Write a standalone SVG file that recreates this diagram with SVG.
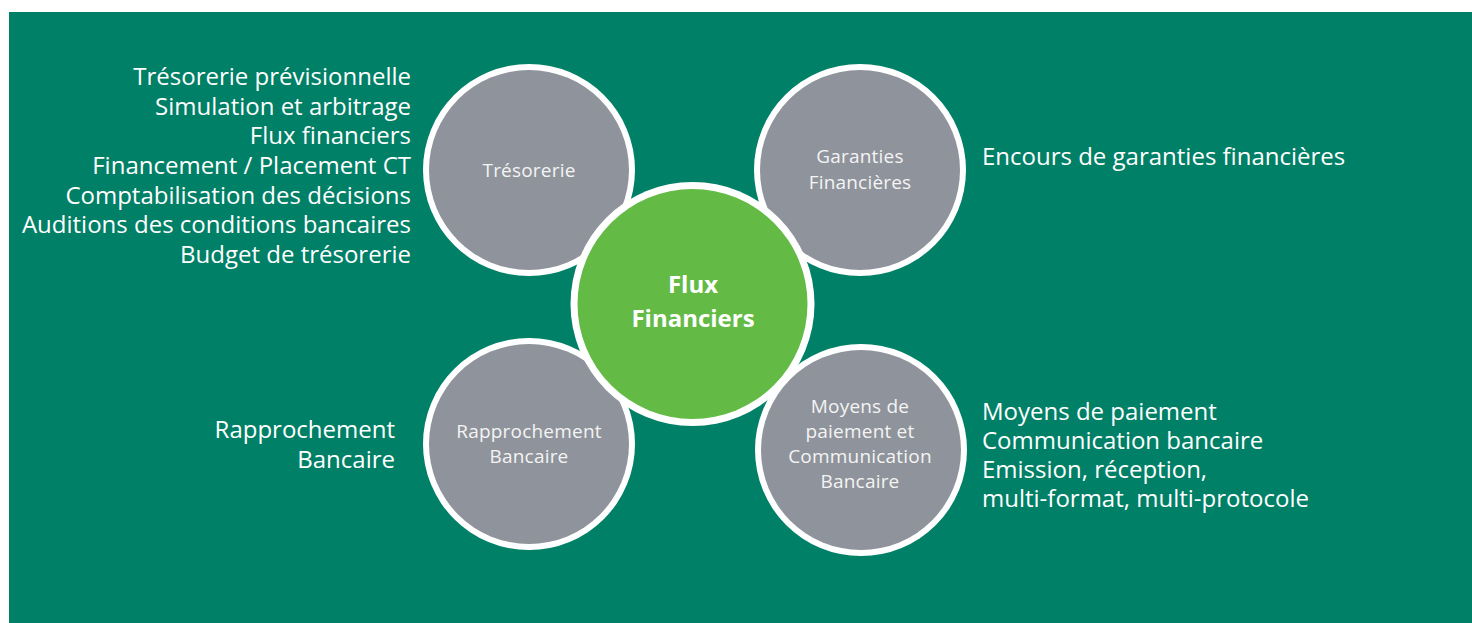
<svg xmlns="http://www.w3.org/2000/svg" width="1472" height="623" viewBox="0 0 1472 623">
  <style>
    .ring { fill: #ffffff; }
    .sat { fill: #8f939b; }
    .hub { fill: #63bb46; }
    .lbl { font-family: "Open Sans", "Noto Sans", sans-serif; font-size: 19px; letter-spacing: 0.2px; fill: #f4f4f4; text-anchor: middle; }
    .hubl { font-family: "Open Sans", "Noto Sans", sans-serif; font-size: 24px; font-weight: bold; fill: #ffffff; text-anchor: middle; }
    .side { font-family: "Open Sans", "Noto Sans", sans-serif; font-size: 24px; fill: #ffffff; }
    .end { text-anchor: end; }
  </style>
  <rect x="0" y="0" width="1472" height="623" fill="#ffffff"/>
  <rect x="9" y="12" width="1463" height="611" fill="#008066"/>

  <g id="tresorerie">
    <circle class="ring" cx="529" cy="170" r="106"/>
    <circle class="sat" cx="529" cy="170" r="100"/>
    <text class="lbl" x="529" y="177">Trésorerie</text>
  </g>

  <g id="garanties">
    <circle class="ring" cx="860" cy="170" r="106"/>
    <circle class="sat" cx="860" cy="170" r="100"/>
    <text class="lbl" x="860" y="163">Garanties</text>
    <text class="lbl" x="860" y="189">Financières</text>
  </g>

  <g id="rapprochement">
    <circle class="ring" cx="529" cy="444" r="106"/>
    <circle class="sat" cx="529" cy="444" r="100"/>
    <text class="lbl" x="529" y="438">Rapprochement</text>
    <text class="lbl" x="529" y="463">Bancaire</text>
  </g>

  <g id="moyens">
    <circle class="ring" cx="861" cy="450" r="106"/>
    <circle class="sat" cx="861" cy="450" r="100"/>
    <text class="lbl" x="860" y="413">Moyens de</text>
    <text class="lbl" x="860" y="438">paiement et</text>
    <text class="lbl" x="860" y="463">Communication</text>
    <text class="lbl" x="860" y="488">Bancaire</text>
  </g>

  <g id="flux-financiers">
    <circle class="ring" cx="692.5" cy="304" r="122"/>
    <circle class="hub" cx="692.5" cy="304" r="115"/>
    <text class="hubl" x="693" y="293">Flux</text>
    <text class="hubl" x="693" y="327">Financiers</text>
  </g>

  <g id="tresorerie-details">
    <text class="side end" x="411" y="85">Trésorerie prévisionnelle</text>
    <text class="side end" x="411" y="114.5">Simulation et arbitrage</text>
    <text class="side end" x="411" y="144">Flux financiers</text>
    <text class="side end" x="411" y="174">Financement / Placement CT</text>
    <text class="side end" x="411" y="203.5">Comptabilisation des décisions</text>
    <text class="side end" x="411" y="233">Auditions des conditions bancaires</text>
    <text class="side end" x="411" y="262.5">Budget de trésorerie</text>
  </g>

  <g id="garanties-details">
    <text class="side" x="982" y="165">Encours de garanties financières</text>
  </g>

  <g id="rapprochement-details">
    <text class="side end" x="395" y="438">Rapprochement</text>
    <text class="side end" x="395" y="468">Bancaire</text>
  </g>

  <g id="moyens-details">
    <text class="side" x="982" y="420">Moyens de paiement</text>
    <text class="side" x="982" y="449">Communication bancaire</text>
    <text class="side" x="982" y="478">Emission, réception,</text>
    <text class="side" x="982" y="507">multi-format, multi-protocole</text>
  </g>
</svg>
